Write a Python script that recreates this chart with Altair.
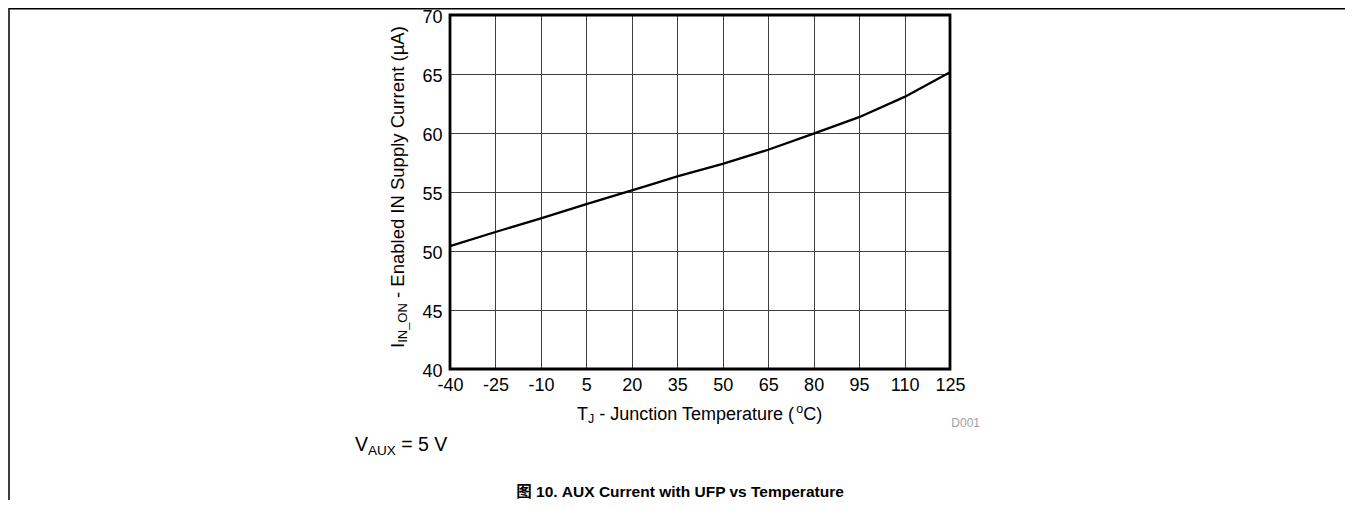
import altair as alt
import pandas as pd

# ---- data ----
temps = [-40, -25, -10, 5, 20, 26, 35, 50, 65, 80, 95, 110, 125]
current = [50.42, 51.61, 52.77, 53.98, 55.14, 55.6, 56.32, 57.38, 58.58, 59.95, 61.34, 63.06, 65.15]
x_ticks = [-40, -25, -10, 5, 20, 35, 50, 65, 80, 95, 110, 125]
y_ticks = [40, 45, 50, 55, 60, 65, 70]

df = pd.DataFrame({"t": temps, "i": current})
note = pd.DataFrame({"k": [0]})

FONT = "Liberation Sans, Arial, Helvetica, sans-serif"
SP = 0.278  # width of a space (em)
W, H = 500, 354
PL, PT = 442, 7


def txt(text, x, y, size, angle=0, weight="normal", color="black", align="left", font=FONT):
    return alt.Chart(note).mark_text(
        text=text, fontSize=size, angle=angle, fontWeight=weight, color=color,
        align=align, baseline="alphabetic", font=font,
    ).encode(x=alt.value(x), y=alt.value(y))


line = alt.Chart(df).mark_line(color="black", strokeWidth=2.3).encode(
    x=alt.X("t:Q", scale=alt.Scale(domain=[-40, 125], nice=False, zero=False),
            axis=alt.Axis(values=x_ticks, title=None, grid=True, ticks=False, domain=False,
                          labelFontSize=18, labelFont=FONT, labelColor="black", labelPadding=7,
                          labelExpr="datum.value + ''",
                          gridColor="#404040", gridWidth=1, gridOpacity=1, labelFlush=False)),
    y=alt.Y("i:Q", scale=alt.Scale(domain=[40, 70], nice=False, zero=False),
            axis=alt.Axis(values=y_ticks, title=None, grid=True, ticks=False, domain=False,
                          labelFontSize=18, labelFont=FONT, labelColor="black", labelPadding=8,
                          labelOffset=2, labelExpr="datum.value + ''",
                          gridColor="#404040", gridWidth=1, gridOpacity=1, labelFlush=False)),
)

frame = alt.Chart(note).mark_rect(filled=False, stroke="black", strokeWidth=2.8).encode(
    x=alt.value(0), x2=alt.value(W), y=alt.value(0), y2=alt.value(H))

layers = [line, frame]

# y axis title with subscript (rotated)
ysz, ysub = 18.5, 13
y0 = 333
layers.append(txt("I", -46, y0, ysz, angle=270))
layers.append(txt("IN_ON", -43, y0 - 0.278 * ysz, ysub, angle=270))
layers.append(txt("- Enabled IN Supply Current (µA)", -46,
                  y0 - 0.278 * ysz - 3.056 * ysub - SP * ysz, ysz, angle=270))

# x axis title with sub/superscript
xs, xsub = 18, 12.5
x0, by = 127, 405
layers.append(txt("T", x0, by, xs))
x1 = x0 + 0.611 * xs
layers.append(txt("J", x1, by + 3, xsub))
x2 = x1 + 0.5 * xsub
layers.append(txt("- Junction Temperature (", x2 + SP * xs, by, xs))
x3 = x2 + 11.226 * xs
layers.append(txt("o", x3, by - 7, xsub))
x4 = x3 + 0.556 * xsub
layers.append(txt("C)", x4, by, xs))

# D001 tag
layers.append(txt("D001", 530, 412, 12, color="#a0a0a0", align="right"))

# V_AUX note
vs, vsub = 19.5, 13.5
v0, vb = -95, 436
layers.append(txt("V", v0, vb, vs))
layers.append(txt("AUX", v0 + 0.667 * vs, vb + 4, vsub))
layers.append(txt("= 5 V", v0 + 0.667 * vs + 2.056 * vsub + SP * vs, vb, vs))

# caption
layers.append(txt("图 10. AUX Current with UFP vs Temperature", 230, 482, 15.5, weight="bold",
                  align="center", font="Liberation Sans, Arial, Noto Sans CJK SC, sans-serif"))

# page decoration lines
layers.append(alt.Chart(note).mark_rule(color="black", strokeWidth=1.5).encode(
    x=alt.value(-441), x2=alt.value(-441), y=alt.value(-7), y2=alt.value(493)))
layers.append(alt.Chart(note).mark_rule(color="black", strokeWidth=1.5).encode(
    x=alt.value(-441), x2=alt.value(903), y=alt.value(-6.3), y2=alt.value(-6.3)))

chart = alt.layer(*layers).properties(
    width=W, height=H,
    autosize=alt.AutoSizeParams(type="none"),
    padding={"left": PL, "top": PT, "right": 1353 - 16 - PL - W, "bottom": 508 - 16 - PT - H},
).configure_view(stroke=None).configure(background="white")

chart.save("out.html", embed_options={"renderer": "svg", "actions": False})
